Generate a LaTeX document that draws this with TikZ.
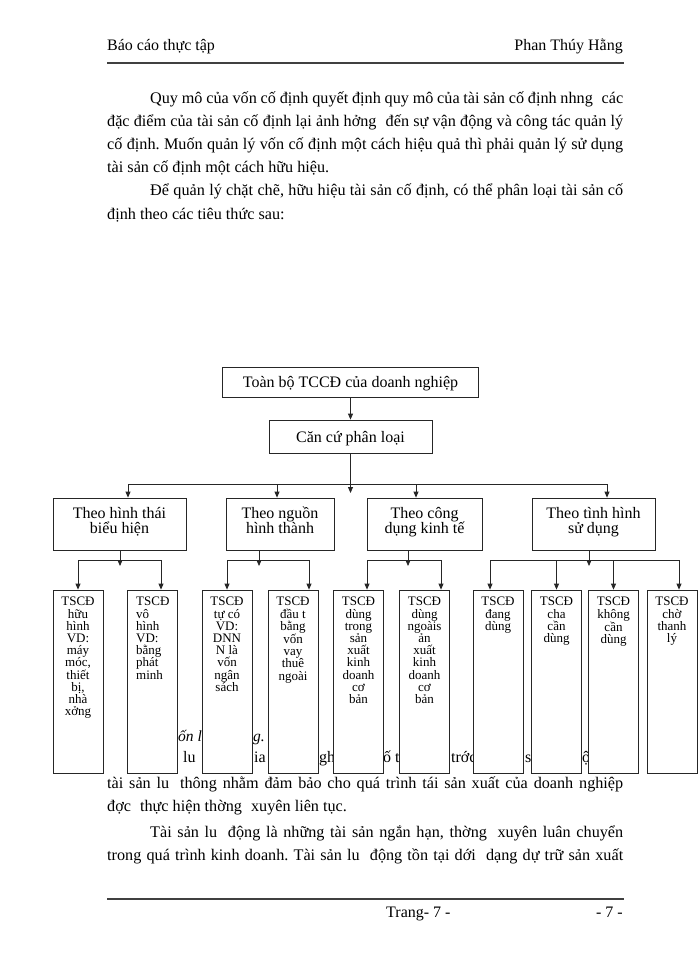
\documentclass[tikz,border=0pt]{standalone}
\usepackage{fontspec}
\setmainfont{Liberation Serif}
\usetikzlibrary{arrows.meta}
\begin{document}
\frenchspacing
\begin{tikzpicture}[x=1pt,y=-1pt,
  txt/.style={anchor=base west,inner sep=0pt,font=\fontsize{16.2}{18}\selectfont},
  txtr/.style={anchor=base east,inner sep=0pt,font=\fontsize{16}{18}\selectfont},
  frag/.style={anchor=base west,inner sep=0pt,font=\fontsize{16}{18}\selectfont},
  box/.style={draw=black!85,line width=0.8pt,fill=white,inner sep=0pt},
  arr/.style={draw=black!85,line width=0.8pt,-{Triangle[length=6pt,width=5pt]}},
  ln/.style={draw=black!75,line width=1.1pt},
  boxtxt/.style={anchor=base,inner sep=0pt,font=\fontsize{16}{15}\selectfont},
  leaftxt/.style={anchor=north,inner sep=0pt,align=center,font=\fontsize{13}{12.2}\selectfont},
  leaf/.style={box,minimum width=50pt,minimum height=183pt}]
\useasboundingbox[fill=white] (0,0) rectangle (700,960);

% header
\node[txt,font=\fontsize{16}{18}\selectfont] (h1) at (107,51) {Báo cáo thực tập};
\node[txtr] (h2) at (623,51) {Phan Thúy Hằng};
\coordinate (hl1) at (107,63);
\coordinate (hl2) at (624,63);
\draw[ln] (hl1) -- (hl2);

% paragraphs top
\node[txt] (p1) at (150,103.5) {\makebox[473pt][s]{Quy mô của vốn cố định quyết định quy mô của tài sản cố định nhng\hspace{5pt} các}};
\node[txt] (p2) at (107,126.5) {\makebox[516pt][s]{đặc điểm của tài sản cố định lại ảnh hởng\hspace{5pt} đến sự vận động và công tác quản lý}};
\node[txt] (p3) at (107,150) {\makebox[516pt][s]{cố định. Muốn quản lý vốn cố định một cách hiệu quả thì phải quản lý sử dụng}};
\node[txt] (p4) at (107,173) {tài sản cố định một cách hữu hiệu.};
\node[txt] (p5) at (150,196) {\makebox[473pt][s]{Để quản lý chặt chẽ, hữu hiệu tài sản cố định, có thể phân loại tài sản cố}};
\node[txt] (p6) at (107,219.5) {định theo các tiêu thức sau:};

% hidden line fragments
\node[frag,font=\fontsize{15.5}{18}\selectfont\itshape] (f1) at (178,741) {ốn l};
\node[frag,font=\fontsize{15.5}{18}\selectfont\itshape] (f2) at (253,741) {g.};
\node[frag] (g1) at (183,762) {lu};
\node[frag] (g2) at (254,762) {ia};
\node[frag] (g3) at (319,762) {gh};
\node[frag] (g4) at (383,762) {ố ti};
\node[frag] (g5) at (451,762) {trớc};
\node[frag] (g6) at (525,762) {s};
\node[frag] (g7) at (582,762) {ộ};

% paragraphs bottom
\node[txt] (q1) at (107,788) {\makebox[516pt][s]{tài sản lu\hspace{5pt} thông nhằm đảm bảo cho quá trình tái sản xuất của doanh nghiệp}};
\node[txt] (q2) at (107,811) {đợc\hspace{5pt} thực hiện thờng\hspace{5pt} xuyên liên tục.};
\node[txt] (q3) at (150,837) {\makebox[473pt][s]{Tài sản lu\hspace{5pt} động là những tài sản ngắn hạn, thờng\hspace{5pt} xuyên luân chuyển}};
\node[txt] (q4) at (107,860) {\makebox[516pt][s]{trong quá trình kinh doanh. Tài sản lu\hspace{5pt} động tồn tại dới\hspace{5pt} dạng dự trữ sản xuất}};

% footer
\coordinate (fl1) at (107,899);
\coordinate (fl2) at (624,899);
\draw[ln] (fl1) -- (fl2);
\node[txt,font=\fontsize{16}{18}\selectfont] (ft1) at (386,917) {Trang- 7 -};
\node[txtr] (ft2) at (623,917) {- 7 -};

% diagram
\node[box,minimum width=256pt,minimum height=30pt] (top) at (350.5,382) {};
\node[boxtxt] (topt) at (350.5,387.5) {Toàn bộ TCCĐ của doanh nghiệp};
\node[box,minimum width=163pt,minimum height=33pt] (cat) at (350.5,436.5) {};
\node[boxtxt] (catt) at (350.5,442) {Căn cứ phân loại};

\node[box,minimum width=133pt,minimum height=52pt] (A) at (119.5,524) {};
\node[box,minimum width=108pt,minimum height=52pt] (B) at (280,524) {};
\node[box,minimum width=115pt,minimum height=52pt] (C) at (424.5,524) {};
\node[box,minimum width=123pt,minimum height=52pt] (D) at (593.5,524) {};
\node[boxtxt] (At1) at (119.5,518) {Theo hình thái};
\node[boxtxt] (At2) at (119.5,533) {biểu hiện};
\node[boxtxt] (Bt1) at (280,518) {Theo nguồn};
\node[boxtxt] (Bt2) at (280,533) {hình thành};
\node[boxtxt] (Ct1) at (424.5,518) {Theo công};
\node[boxtxt] (Ct2) at (424.5,533) {dụng kinh tế};
\node[boxtxt] (Dt1) at (593.5,518) {Theo tình hình};
\node[boxtxt] (Dt2) at (593.5,533) {sử dụng};

\draw[arr] (top.south) -- (cat.north);
\coordinate (bus) at (350.5,484);
\coordinate (busend) at (350.5,493);
\draw[arr] (cat.south) -- (busend);
\draw[arr] (bus) -| ([xshift=8.5pt]A.north);
\draw[arr] (bus) -| ([xshift=-3pt]B.north);
\draw[arr] (bus) -| ([xshift=-8.5pt]C.north);
\draw[arr] (bus) -| ([xshift=13.5pt]D.north);

% leaves
\node[leaf] (b1) at (78,681.5) {};
\node[leaf] (b2) at (152.5,681.5) {};
\node[leaf] (b3) at (227,681.5) {};
\node[leaf] (b4) at (293,681.5) {};
\node[leaf] (b5) at (358.5,681.5) {};
\node[leaf] (b6) at (424.5,681.5) {};
\node[leaf] (b7) at (498,681.5) {};
\node[leaf] (b8) at (556.5,681.5) {};
\node[leaf] (b9) at (613.5,681.5) {};
\node[leaf] (b10) at (672,681.5) {};

\node[leaftxt] (t1) at (78,597) {TSCĐ\\hữu\\hình\\VD:\\máy\\móc,\\thiết\\bị,\\nhà\\xởng};
\node[leaftxt,anchor=north west,align=left] (t2) at (136,597) {TSCĐ\\vô\\hình\\VD:\\bằng\\phát\\minh};
\node[leaftxt] (t3) at (227,597) {TSCĐ\\tự có\\VD:\\DNN\\N là\\vốn\\ngân\\sách};
\node[leaftxt] (t4) at (293,597) {TSCĐ\\đầu t\\bằng\\vốn\\vay\\thuê\\ngoài};
\node[leaftxt] (t5) at (358.5,597) {TSCĐ\\dùng\\trong\\sản\\xuất\\kinh\\doanh\\cơ\\bản};
\node[leaftxt] (t6) at (424.5,597) {TSCĐ\\dùng\\ngoàis\\ản\\xuất\\kinh\\doanh\\cơ\\bản};
\node[leaftxt] (t7) at (498,597) {TSCĐ\\đang\\dùng};
\node[leaftxt] (t8) at (556.5,597) {TSCĐ\\cha\\cần\\dùng};
\node[leaftxt] (t9) at (613.5,597) {TSCĐ\\không\\cần\\dùng};
\node[leaftxt] (t10) at (672,597) {TSCĐ\\chờ\\thanh\\lý};

% sub-buses
\coordinate (sA) at (120,560);
\coordinate (sAe) at (120,566);
\coordinate (sB) at (259,560);
\coordinate (sBe) at (259,566);
\coordinate (sC) at (408,560);
\coordinate (sCe) at (408,566);
\coordinate (sD) at (589,560);
\coordinate (sDe) at (589,566);
\draw[arr] (A.south -| sA) -- (sAe);
\draw[arr] (B.south -| sB) -- (sBe);
\draw[arr] (C.south -| sC) -- (sCe);
\draw[arr] (D.south -| sD) -- (sDe);

\draw[arr] (sA) -| (b1.north);
\draw[arr] (sA) -| ([xshift=8.5pt]b2.north);
\draw[arr] (sB) -| (b3.north);
\draw[arr] (sB) -| ([xshift=16pt]b4.north);
\draw[arr] (sC) -| ([xshift=8.5pt]b5.north);
\draw[arr] (sC) -| ([xshift=16.5pt]b6.north);
\draw[arr] (sD) -| ([xshift=-8pt]b7.north);
\draw[arr] (sD) -| (b8.north);
\draw[arr] (sD) -| (b9.north);
\draw[arr] (sD) -| ([xshift=7pt]b10.north);
\end{tikzpicture}
\end{document}
